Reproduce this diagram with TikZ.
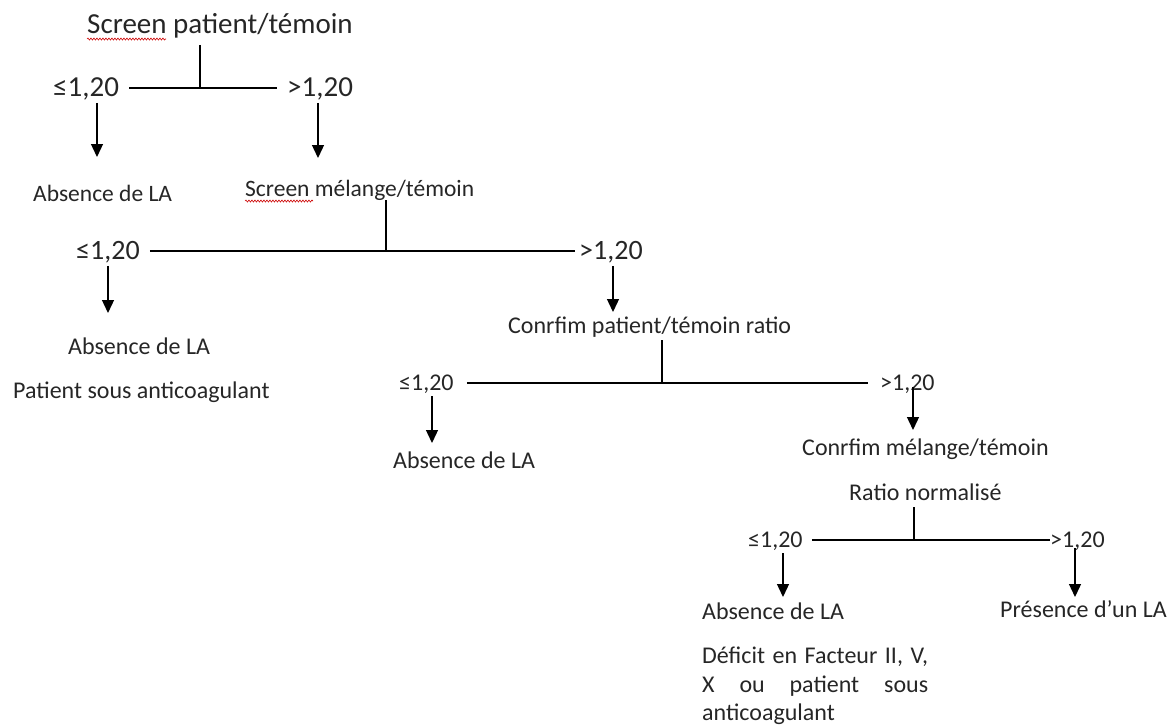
\documentclass[tikz,border=0pt]{standalone}
\usepackage{fontspec}
\setmainfont{Carlito}
\usetikzlibrary{arrows.meta,decorations.pathmorphing}

\begin{document}
\begin{tikzpicture}[x=1pt,y=-1pt,
    txt/.style={anchor=base west,inner sep=0pt,text=black!85},
    big/.style={txt,font=\fontsize{29}{35}\selectfont},
    lab2/.style={txt,font=\fontsize{28}{34}\selectfont},
    sub/.style={txt,font=\fontsize{23.5}{28}\selectfont},
    small/.style={txt,font=\fontsize{24}{28.5}\selectfont},
    stem/.style={line width=1.3pt},
    arr/.style={line width=1.3pt,-{Triangle[width=12pt,length=13pt]},shorten <=3pt},
    squig/.style={red!80!black,line width=0.6pt,decorate,
      decoration={snake,amplitude=1pt,segment length=3pt}}]
    \useasboundingbox (0,0) rectangle (1170,724);

    % level 1
    \node[big] (T0) at (87,33) {Screen patient/témoin};
    \coordinate (J1) at (200,88);
    \node[big] (L1) at (53,96) {≤1,20};
    \node[big] (R1) at (287,96) {>1,20};
    \node[sub] (A1) at (33,201) {Absence de LA};
    \node[sub] (S2) at (245,196) {Screen mélange/témoin};
    \coordinate (a1) at (97,157);
    \coordinate (b1) at (318,158);

    % level 2
    \coordinate (J2) at (386,251);
    \node[lab2] (L2) at (76,259) {≤1,20};
    \node[lab2] (R2) at (579,259) {>1,20};
    \node[small] (A2) at (68,354) {Absence de LA};
    \node[small] (P2) at (13,398) {Patient sous anticoagulant};
    \node[small] (C3) at (508,333) {Conrfim patient/témoin ratio};
    \coordinate (a2) at (108,313);
    \coordinate (b2) at (613,312);

    % level 3
    \coordinate (J3) at (662,383);
    \node[small] (L3) at (399,390) {≤1,20};
    \node[small] (R3) at (880,390) {>1,20};
    \node[small] (A3) at (393,468) {Absence de LA};
    \node[small] (C4) at (802,455) {Conrfim mélange/témoin};
    \node[small] (N4) at (849,500) {Ratio normalisé};
    \coordinate (a3) at (432,443);
    \coordinate (b3) at (913,430);

    % level 4
    \coordinate (J4) at (914,540);
    \node[small] (L4) at (748,547) {≤1,20};
    \node[small] (R4) at (1050,547) {>1,20};
    \node[small] (A4) at (702,619) {Absence de LA};
    \node[small] (P4) at (1000,617) {Présence d’un LA};
    \node[small,anchor=north west,text width=226pt,align=left] (D4) at (702,647)
      {{\spaceskip=0.12em plus 0.2em\relax\makebox[226pt][s]{Déficit en Facteur II, V,}}\\
       X\hfill ou\hfill patient\hfill sous\\anticoagulant};
    \coordinate (a4) at (783,597);
    \coordinate (b4) at (1075,597);

    % connectors
    \draw[stem,shorten <=7pt] (T0.south -| J1) -- (J1);
    \draw[stem,shorten <=10pt,shorten >=10pt] (L1.east |- J1) -- (R1.west |- J1);
    \draw[arr] (L1.south -| a1) -- (a1);
    \draw[arr] (R1.south -| b1) -- (b1);

    \draw[stem] (S2.south -| J2) -- (J2);
    \draw[stem,shorten <=10pt,shorten >=4pt] (L2.east |- J2) -- (R2.west |- J2);
    \draw[arr] (L2.south -| a2) -- (a2);
    \draw[arr] (R2.south -| b2) -- (b2);

    \draw[stem,shorten <=3pt] (C3.south -| J3) -- (J3);
    \draw[stem,shorten <=13pt,shorten >=12pt] (L3.east |- J3) -- (R3.west |- J3);
    \draw[arr] (L3.south -| a3) -- (a3);
    \draw[arr,shorten <=-6pt] (R3.south -| b3) -- (b3);

    \draw[stem,shorten <=7pt] (N4.south -| J4) -- (J4);
    \draw[stem,shorten <=9pt] (L4.east |- J4) -- (R4.west |- J4);
    \draw[arr] (L4.south -| a4) -- (a4);
    \draw[arr,shorten <=-2pt] (R4.south -| b4) -- (b4);

    % spell-check marks
    \draw[squig] ([yshift=-6pt]T0.base west) -- ++(79,0);
    \draw[squig] ([yshift=-5pt]S2.base west) -- ++(68,0);
\end{tikzpicture}
\end{document}
